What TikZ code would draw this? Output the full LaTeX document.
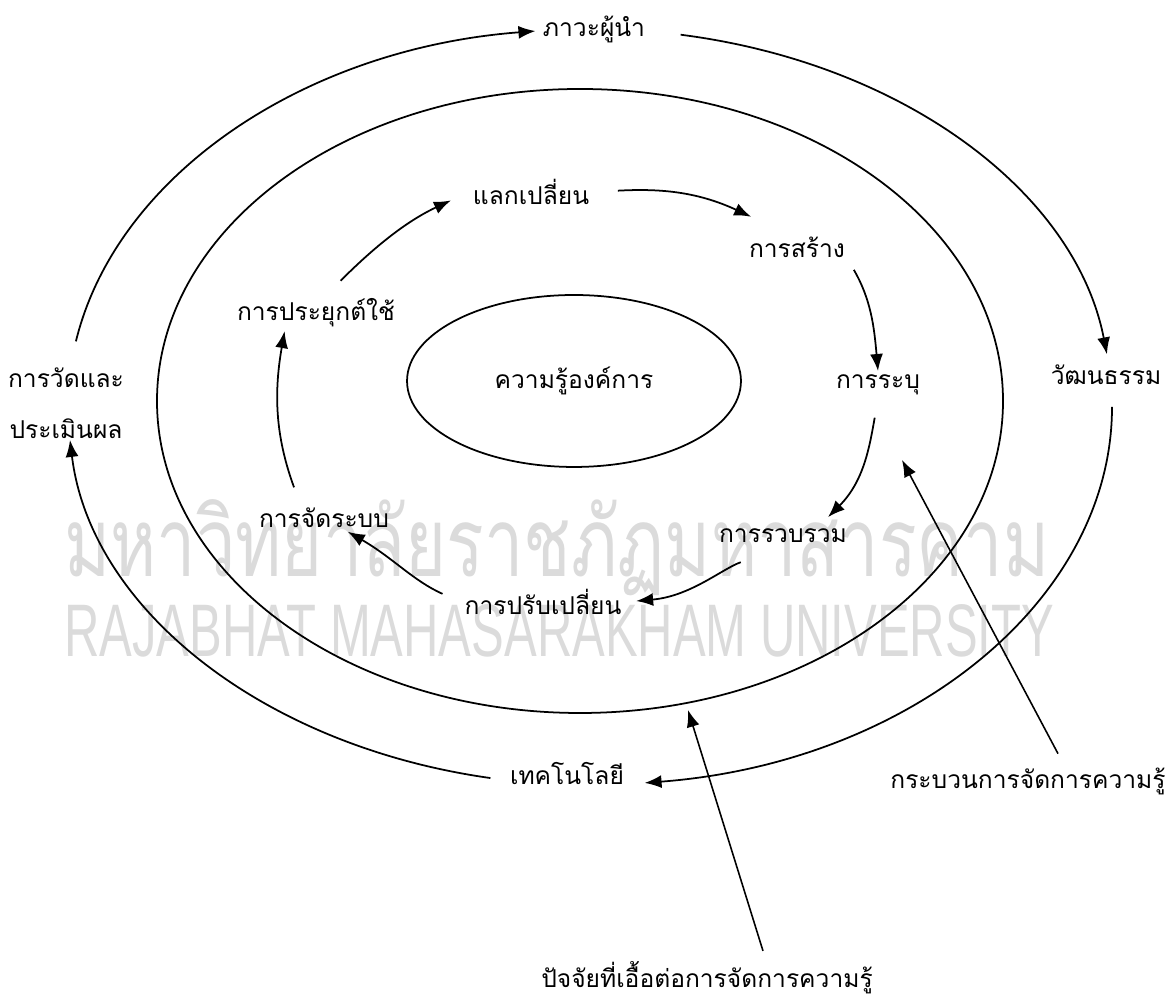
\documentclass[tikz,border=0pt]{standalone}
\usepackage{fontspec}
\setmainfont[Script=Thai]{Loma}
\newfontfamily\latinfont{Liberation Sans}
\usepackage{tikz}
\usetikzlibrary{arrows.meta,shapes.geometric}

\tikzset{
	lbl/.style={font=\fontsize{14}{17}\selectfont,inner sep=2pt},
	flow/.style={line width=1pt,-{Latex[length=3.4mm,width=2.6mm]}},
	ptr/.style={line width=0.9pt,-{Latex[length=3.4mm,width=2.6mm]}},
	wmark/.style={text=black!14,inner sep=0pt,anchor=base west}
}

\begin{document}
\begin{tikzpicture}[x=0.02cm,y=0.02cm]
	\useasboundingbox (0,0) rectangle (1176,999);
	% watermark
	\node[wmark] (wthai) at (64,422) {\resizebox{19.7cm}{1.54cm}{มหาวิทยาลัยราชภัฏมหาสารคาม}};
	\node[wmark] (weng) at (64,342) {\resizebox{19.8cm}{1.04cm}{\latinfont RAJABHAT MAHASARAKHAM UNIVERSITY}};
	\coordinate (oc) at (590,592);
	\coordinate (mc) at (580,598);
	\draw[line width=1pt] (mc) ellipse[x radius=423,y radius=312];
	\node[lbl,draw,ellipse,line width=1pt,minimum width=6.68cm,minimum height=3.44cm] (core) at (574,618) {ความรู้องค์การ};
	% outer ring
	\node[lbl] (lead) at (594,970) {ภาวะผู้นำ};
	\node[lbl] (culture) at (1106,624) {วัฒนธรรม};
	\node[lbl] (tech) at (567,225) {เทคโนโลยี};
	\node[lbl,align=center,font=\fontsize{14}{29}\selectfont] (measure) at (66,596) {การวัดและ\\ประเมินผล};
	\foreach \a/\b in {170/96,80/8,0/-84,-101/-175}
	{
		\draw[flow] (oc) ++(\a:522 and 378) arc[start angle=\a,end angle=\b,x radius=522,y radius=378];
	}
	% cycle
	\node[lbl] (exch) at (531,807) {แลกเปลี่ยน};
	\node[lbl] (create) at (797,752) {การสร้าง};
	\node[lbl] (ident) at (878,614) {การระบุ};
	\node[lbl] (collect) at (783,463) {การรวบรวม};
	\node[lbl] (adapt) at (543,397) {การปรับเปลี่ยน};
	\node[lbl] (organize) at (324,481) {การจัดระบบ};
	\node[lbl] (apply) at (316,686) {การประยุกต์ใช้};
	\draw[flow,shorten <=0.5cm] (exch.east) to[out=3,in=155] ([xshift=0.12cm,yshift=0.32cm]create.north west);
	\draw[flow,shorten <=0.2cm] (create.south east) to[out=-60,in=95] (ident.north);
	\draw[flow,shorten <=0.38cm] (ident.south) to[out=-100,in=45] ([xshift=0.9cm,yshift=0.16cm]collect.north);
	\draw[flow,shorten <=0.9cm,shorten >=0.22cm] (collect.south) to[out=-160,in=5] (adapt.east);
	\draw[flow,shorten <=0.4cm] (adapt.west) to[out=156,in=-30] (organize);
	\draw[flow,shorten <=0.36cm] (organize.150) to[out=110,in=-100] (apply.-150);
	\draw[flow,shorten <=0.4cm,shorten >=0.4cm] (apply.60) to[out=45,in=-155] (exch.west);
	% pointers
	\coordinate (procpt) at (902,539);
	\coordinate (factpt) at (688,289);
	\node[lbl] (kmproc) at (1028,218) {กระบวนการจัดการความรู้};
	\node[lbl] (factor) at (707,21) {ปัจจัยที่เอื้อต่อการจัดการความรู้};
	\draw[ptr] ([xshift=0.6cm,yshift=0.2cm]kmproc.north) -- (procpt);
	\draw[ptr] ([xshift=1.12cm,yshift=0.14cm]factor.north) -- (factpt);
\end{tikzpicture}
\end{document}
